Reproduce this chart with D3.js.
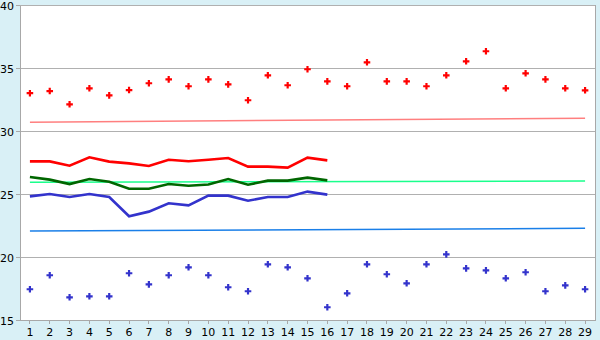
<!DOCTYPE html>
<html>
<head>
<meta charset="utf-8">
<script src="https://cdn.jsdelivr.net/npm/d3@7"></script>
<style>
  body { margin: 0; background: #d9f0f6; }
  svg { display: block; }
  .axis text { font-family: "DejaVu Sans", Verdana, sans-serif; font-size: 11px; fill: #000; }
  .axis path, .axis line { stroke: #a8a8a8; }
</style>
</head>
<body>
<svg id="chart" width="600" height="340"></svg>
<script>
const categories = d3.range(1, 30).map(String);

// scatter series (one value per category)
const redDots = [33.0, 33.17, 32.12, 33.39, 32.83, 33.25, 33.79, 34.1, 33.55, 34.1, 33.7, 32.44, 34.42, 33.63,
  34.9, 33.94, 33.55, 35.45, 33.94, 33.94, 33.55, 34.42, 35.53, 36.33, 33.39, 34.58, 34.1, 33.39, 33.23];
const blueDots = [17.44, 18.55, 16.8, 16.88, 16.88, 18.71, 17.83, 18.55, 19.18, 18.55, 17.6, 17.28, 19.42, 19.18,
  18.31, 16.01, 17.12, 19.42, 18.63, 17.91, 19.42, 20.21, 19.1, 18.94, 18.31, 18.79, 17.28, 17.75, 17.44];

// thick lines (first 16 categories)
const redLine = [27.59, 27.59, 27.25, 27.91, 27.57, 27.43, 27.22, 27.72, 27.6, 27.72, 27.86, 27.17, 27.17, 27.09, 27.88, 27.67];
const greenLine = [26.35, 26.14, 25.79, 26.19, 25.98, 25.42, 25.42, 25.79, 25.66, 25.76, 26.19, 25.74, 26.06, 26.06, 26.3, 26.08];
const blueLine = [24.81, 25.0, 24.76, 25.0, 24.76, 23.23, 23.6, 24.26, 24.1, 24.87, 24.87, 24.47, 24.76, 24.76, 25.19, 24.95];

// thin reference lines: value at first and last category
const pinkRef = [30.7, 31.02];
const greenRef = [25.93, 26.03];
const blueRef = [22.06, 22.28];

const yTicks = [15, 20, 25, 30, 35, 40];

const svg = d3.select('#chart');
const pLeft = 20, pRight = 595, pTop = 5, pBottom = 320;

const x = d3.scaleBand().domain(categories).range([pLeft, pRight]);
const cx = c => x(c) + x.bandwidth() / 2;
const y = d3.scaleLinear().domain([15, 40]).range([pBottom, pTop]);

svg.append('rect')
  .attr('x', pLeft).attr('y', pTop)
  .attr('width', pRight - pLeft).attr('height', pBottom - pTop)
  .attr('fill', '#fff');

// horizontal grid
svg.append('g')
  .attr('transform', `translate(${pLeft},0)`)
  .call(d3.axisRight(y).tickValues(yTicks).tickSize(pRight - pLeft).tickFormat(''))
  .call(g => g.select('.domain').remove())
  .call(g => g.selectAll('line').attr('stroke', '#b0b0b0').attr('shape-rendering', 'crispEdges'));

// right border
svg.append('line')
  .attr('x1', pRight).attr('x2', pRight).attr('y1', pTop).attr('y2', pBottom)
  .attr('stroke', '#a8a8a8').attr('shape-rendering', 'crispEdges');

const yAxis = svg.append('g')
  .attr('class', 'axis')
  .attr('transform', `translate(${pLeft},0)`)
  .call(d3.axisLeft(y).tickValues(yTicks).tickSize(4).tickPadding(2).tickSizeOuter(0));
yAxis.selectAll('line').attr('stroke', '#000');
yAxis.selectAll('path, line').attr('shape-rendering', 'crispEdges');
yAxis.selectAll('text').attr('dy', '0.4em');

const xAxis = svg.append('g')
  .attr('class', 'axis')
  .attr('transform', `translate(0,${pBottom})`)
  .call(d3.axisBottom(x).tickSize(4).tickPadding(4).tickSizeOuter(0));
xAxis.selectAll('line').attr('stroke', '#000');
xAxis.selectAll('path, line').attr('shape-rendering', 'crispEdges');

// reference lines
const refs = [
  { vals: pinkRef, color: '#ff7f7f' },
  { vals: greenRef, color: '#1aff8c' },
  { vals: blueRef, color: '#1a7fe8' }
];
refs.forEach(r => {
  svg.append('line')
    .attr('x1', cx(categories[0])).attr('x2', cx(categories[categories.length - 1]))
    .attr('y1', y(r.vals[0])).attr('y2', y(r.vals[1]))
    .attr('stroke', r.color).attr('stroke-width', 1.5);
});

const line = d3.line().x((d, i) => cx(categories[i])).y(d => y(d));
[
  { vals: redLine, color: '#ff0000' },
  { vals: greenLine, color: '#006600' },
  { vals: blueLine, color: '#3333cc' }
].forEach(s => {
  svg.append('path')
    .datum(s.vals)
    .attr('d', line)
    .attr('fill', 'none')
    .attr('stroke', s.color)
    .attr('stroke-width', 2.6);
});

const sym = d3.symbol().type(d3.symbolCross).size(24);
[
  { vals: redDots, color: '#ff0000' },
  { vals: blueDots, color: '#3333cc' }
].forEach(s => {
  svg.append('g').selectAll('path')
    .data(s.vals)
    .join('path')
    .attr('transform', (d, i) => `translate(${cx(categories[i])},${y(d)})`)
    .attr('d', sym)
    .attr('fill', s.color);
});
</script>
</body>
</html>
